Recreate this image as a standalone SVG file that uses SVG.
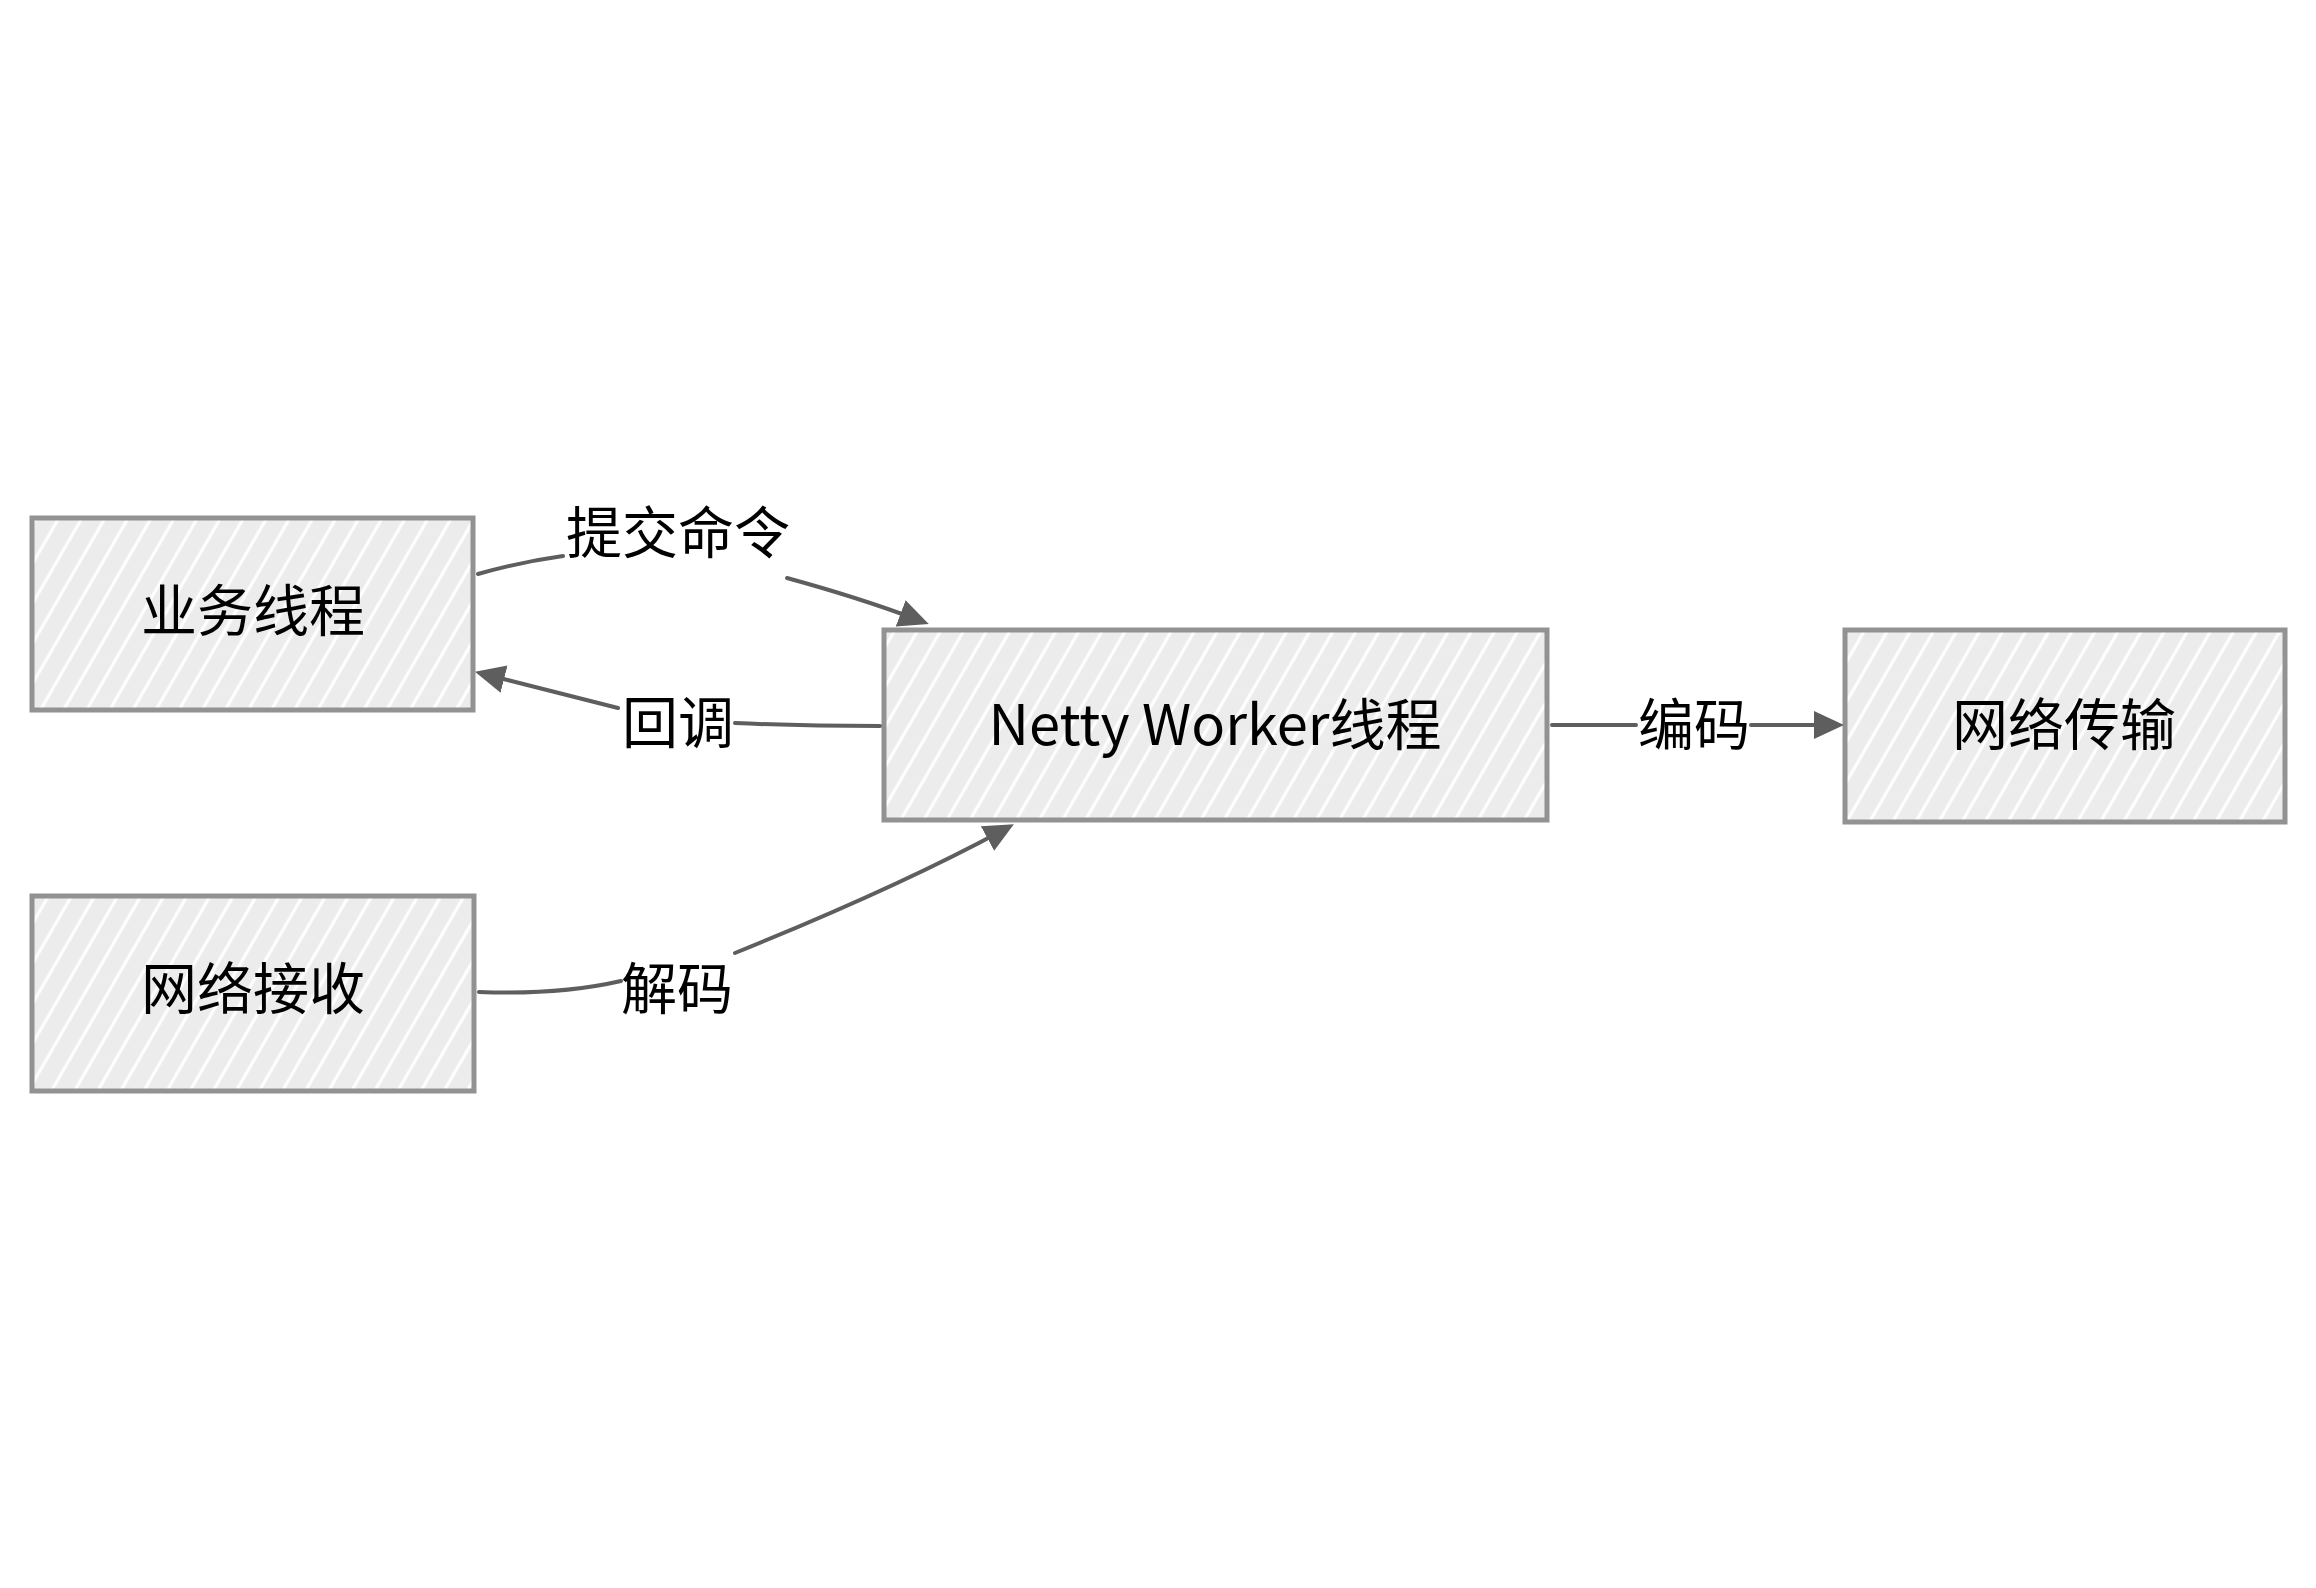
<svg xmlns="http://www.w3.org/2000/svg" width="2316" height="1588" viewBox="0 0 2316 1588">
<style>
.box{fill:#ececec;}
.hatch{fill:url(#hatch);}
.edge{fill:none;stroke:#929292;stroke-width:5;}
.lbl{font-family:"Noto Sans CJK SC","Noto Sans",sans-serif;font-size:56px;fill:#000;text-anchor:middle;}
.con{fill:none;stroke:#5e5e5e;stroke-width:4;stroke-linecap:round;}
</style>
<defs>
<pattern id="hatch" patternUnits="userSpaceOnUse" width="20" height="40" patternTransform="rotate(30)">
<line x1="10" y1="0" x2="10" y2="40" stroke="#ffffff" stroke-width="3"/>
</pattern>
<marker id="arrow" markerUnits="userSpaceOnUse" markerWidth="34" markerHeight="34" refX="18" refY="14" orient="auto">
<path d="M0,0 L30,14 L0,28 Z" fill="#5e5e5e"/>
</marker>
</defs>
<rect width="2316" height="1588" fill="#ffffff"/>

<g id="node-business">
<rect class="box" x="32" y="518" width="441" height="192"/>
<rect class="hatch" x="32" y="518" width="441" height="192"/>
<rect class="edge" x="32" y="518" width="441" height="192"/>
<text class="lbl" x="253" y="631">业务线程</text>
</g>

<g id="node-receive">
<rect class="box" x="32" y="896" width="442" height="195"/>
<rect class="hatch" x="32" y="896" width="442" height="195"/>
<rect class="edge" x="32" y="896" width="442" height="195"/>
<text class="lbl" x="253" y="1009">网络接收</text>
</g>

<g id="node-netty">
<rect class="box" x="884" y="630" width="663" height="190"/>
<rect class="hatch" x="884" y="630" width="663" height="190"/>
<rect class="edge" x="884" y="630" width="663" height="190"/>
<text class="lbl" x="1215" y="745">Netty Worker线程</text>
</g>

<g id="node-transmit">
<rect class="box" x="1845" y="630" width="440" height="192"/>
<rect class="hatch" x="1845" y="630" width="440" height="192"/>
<rect class="edge" x="1845" y="630" width="440" height="192"/>
<text class="lbl" x="2064" y="745">网络传输</text>
</g>

<g id="connectors">
<g id="edge-submit">
<path class="con" d="M478,574 Q520,562 563,556"/>
<path class="con" d="M787,578 Q860,598 917.5,619.7" marker-end="url(#arrow)"/>
<text class="lbl" x="678" y="553">提交命令</text>
</g>
<g id="edge-callback">
<path class="con" d="M880,726 Q800,726 735,723"/>
<path class="con" d="M618,708 Q550,691 486.6,674.7" marker-end="url(#arrow)"/>
<text class="lbl" x="678" y="743">回调</text>
</g>
<g id="edge-decode">
<path class="con" d="M479,992 Q560,995 621,981"/>
<path class="con" d="M735,953 Q900,886 1003.3,829.9" marker-end="url(#arrow)"/>
<text class="lbl" x="677" y="1009">解码</text>
</g>
<g id="edge-encode">
<path class="con" d="M1552,725 L1636,725"/>
<path class="con" d="M1751,725 L1832,725" marker-end="url(#arrow)"/>
<text class="lbl" x="1694" y="745">编码</text>
</g>
</g>
</svg>
